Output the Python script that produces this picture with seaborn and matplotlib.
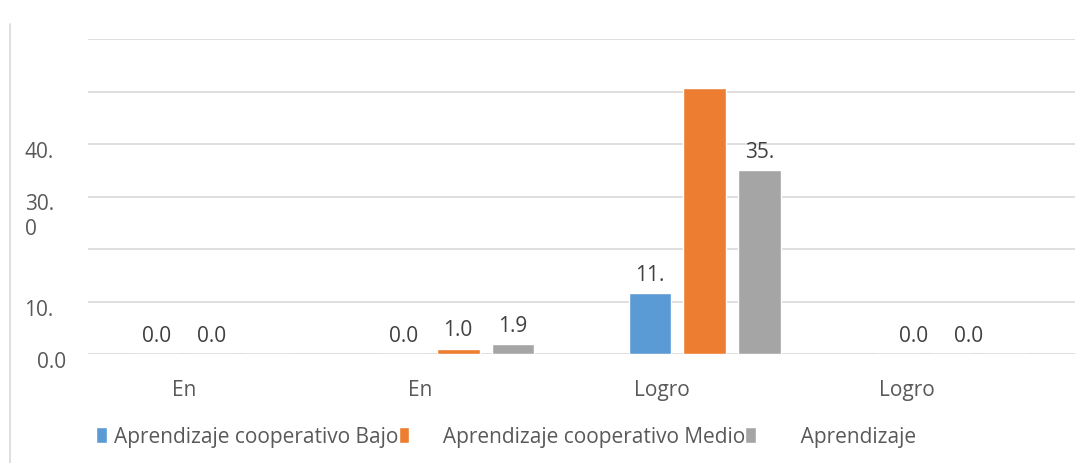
import numpy as np
import pandas as pd
import matplotlib
matplotlib.use("Agg")
import matplotlib.pyplot as plt
import matplotlib.transforms as mtransforms
from matplotlib.lines import Line2D
import seaborn as sns

# categories (full names) and the truncated labels shown on the axis
categories = ["En inicio", "En proceso", "Logro previsto", "Logro destacado"]
cat_labels = ["En", "En", "Logro", "Logro"]

series_names = ["Aprendizaje cooperativo Bajo",
                "Aprendizaje cooperativo Medio",
                "Aprendizaje"]
bajo = [0.0, 0.0, 11.6, 0.0]
medio = [0.0, 1.0, 50.7, 0.0]
alto = [0.0, 1.9, 35.0, 0.0]

# value labels as they appear (some are cut off / missing in the source)
bajo_lbl = ["0.0", "0.0", "11.", "0.0"]
medio_lbl = ["0.0", "1.0", "", "0.0"]
alto_lbl = ["", "1.9", "35.", ""]

ytick_vals = [0, 10, 20, 30, 40, 50, 60]
ytick_lbls = ["0.0", "10.", "", "30.\n0", "40.", "", ""]

colors = ["#5B9BD5", "#ED7D31", "#A5A5A5"]

df = pd.DataFrame({
    "cat": categories * 3,
    "serie": np.repeat(series_names, len(categories)),
    "valor": bajo + medio + alto,
})

sns.set_style("white")
plt.rcParams["font.family"] = ["Open Sans", "DejaVu Sans"]
FS = 15

fig = plt.figure(figsize=(10.87, 4.64), dpi=100)
ax = fig.add_axes([88 / 1087, 109 / 464, 987 / 1087, 315 / 464])

sns.barplot(data=df, x="cat", y="valor", hue="serie", order=categories,
            hue_order=series_names, palette=colors, width=0.668, gap=0.22,
            saturation=1, ax=ax, legend=True)

ax.set_ylim(0, 60)
ax.set_yticks(ytick_vals)
ax.set_yticklabels(ytick_lbls)
ax.yaxis.grid(True, color="#D9D9D9", linewidth=1.2)
ax.set_axisbelow(True)
for s in ax.spines.values():
    s.set_visible(False)
ax.tick_params(axis="both", length=0, labelsize=FS, colors="#595959")
ax.tick_params(axis="y", pad=16)
ax.set_xlabel("")
ax.set_ylabel("")

# y labels: first line sits just under the gridline, left-aligned lines
for t in ax.get_yticklabels():
    t.set_va("top")
    t.set_ha("right")
    t.set_multialignment("left")
    dx = -12 / 100 if t.get_text().split("\n")[0].endswith(".") else 0
    t.set_transform(t.get_transform() + mtransforms.ScaledTranslation(dx, 3 / 100, fig.dpi_scale_trans))

ax.set_xticks(range(len(categories)))
ax.set_xticklabels(cat_labels)
ax.tick_params(axis="x", pad=18)
x_shift = [-27, -38, -43, -45]
for t, dx in zip(ax.get_xticklabels(), x_shift):
    t.set_transform(t.get_transform() + mtransforms.ScaledTranslation(dx / 100, 0, fig.dpi_scale_trans))

for cont, lbls in zip(ax.containers, [bajo_lbl, medio_lbl, alto_lbl]):
    anns = ax.bar_label(cont, labels=lbls, padding=6, fontsize=FS, color="#404040")
    # last group labels are drawn a little to the right in the source
    anns[3].xyann = (12.5, 6)

leg = ax.legend(loc="center left", bbox_to_anchor=(86 / 1087, 26 / 464),
                bbox_transform=fig.transFigure, ncol=3, frameon=False,
                fontsize=FS, handlelength=0.5, handleheight=0.8,
                handletextpad=0.35, columnspacing=0.0, borderpad=0)
for t in leg.get_texts():
    t.set_color("#595959")
leg.get_texts()[1].set_text("     " + series_names[1])
leg.get_texts()[2].set_text("       " + series_names[2])

fig.add_artist(Line2D([10 / 1087, 10 / 1087], [0, 439 / 464],
                      transform=fig.transFigure, color="#D9D9D9", linewidth=1.2))

fig.savefig("out.png", dpi=100)
